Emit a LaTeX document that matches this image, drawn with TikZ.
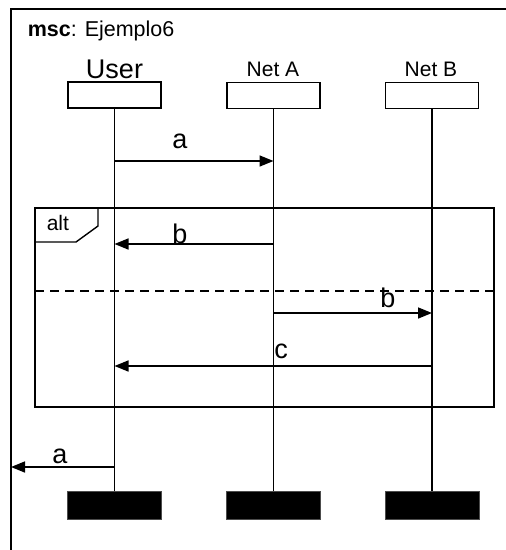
\documentclass[tikz,border=0pt]{standalone}
\usepackage{fontspec}
\setmainfont{Liberation Sans}
\usetikzlibrary{arrows.meta}
\begin{document}
\begin{tikzpicture}[x=1pt,y=-1pt,
  line width=1.6pt,
  headbox/.style={draw, rectangle, minimum width=93pt, minimum height=26pt, inner sep=0pt, line width=1.4pt},
  endbox/.style={draw=black!70, fill=black, rectangle, minimum width=94pt, minimum height=28pt, inner sep=0pt, line width=0.8pt},
  lifeline/.style={line width=1.8pt},
  msg/.style={-{Triangle[length=14pt,width=11pt]}, line width=1.6pt},
  lbl/.style={anchor=base, inner sep=0pt, font=\fontsize{27}{30}\selectfont},
  ename/.style={anchor=base, inner sep=0pt, font=\fontsize{21}{24}\selectfont}]
\useasboundingbox (0,0) rectangle (506,550);

% diagram frame (open to the right and below)
\draw[line width=2pt] (11,550) -- (11,9) -- (506,9);
\node[anchor=base west, inner sep=0pt, font=\fontsize{21.5}{24}\selectfont] (title) at (27,36) {\textbf{msc}: Ejemplo6};

% instance heads
\node[headbox] (hU) at (114.5,95) {};
\node[headbox] (hA) at (273.5,95.5) {};
\node[headbox] (hB) at (432,95.5) {};
\node[ename, font=\fontsize{27}{30}\selectfont] (nU) at (114.5,78) {User};
\node[ename] (nA) at (273,76.5) {Net A};
\node[ename] (nB) at (431,76.5) {Net B};

% instance ends
\node[endbox] (eU) at (114.5,505) {};
\node[endbox] (eA) at (273.5,505) {};
\node[endbox] (eB) at (432,505) {};

% lifelines
\draw[lifeline] (hU.south) -- (eU.north);
\draw[lifeline] (hA.south) -- (eA.north);
\draw[lifeline] (hB.south) -- (eB.north);

% points on the lifelines used by the messages
\coordinate (u1) at (114.5,161);
\coordinate (a1) at (273.5,161);
\coordinate (u2) at (114.5,244);
\coordinate (a2) at (273.5,244);
\coordinate (a3) at (273.5,313);
\coordinate (b3) at (432,313);
\coordinate (b4) at (432,366);
\coordinate (u4) at (114.5,366);
\coordinate (u5) at (114.5,467);
\coordinate (env) at (11,467);

% alt inline expression
\draw[line width=1.6pt] (35,208) rectangle (494,407);
\coordinate (altA) at (98,208);
\coordinate (altB) at (98,226);
\coordinate (altC) at (76,242);
\coordinate (altD) at (35,242);
\draw[line width=1.4pt] (altA) -- (altB) -- (altC) -- (altD);
\node[anchor=base west, inner sep=0pt, font=\fontsize{21}{24}\selectfont] (alt) at (46,230) {alt};
\draw[line width=1.4pt, dash pattern=on 9pt off 6pt] (35,291) -- (494,291);

% messages
\draw[msg] (u1) -- (a1);
\node[lbl] (la1) at (180,148) {a};
\draw[msg] (a2) -- (u2);
\node[lbl] (lb1) at (180,243) {b};
\draw[msg] (a3) -- (b3);
\node[lbl] (lb2) at (388,307) {b};
\draw[msg] (b4) -- (u4);
\node[lbl] (lc) at (281,358) {c};
\draw[msg] (u5) -- (env);
\node[lbl] (la2) at (60,463) {a};
\end{tikzpicture}
\end{document}
